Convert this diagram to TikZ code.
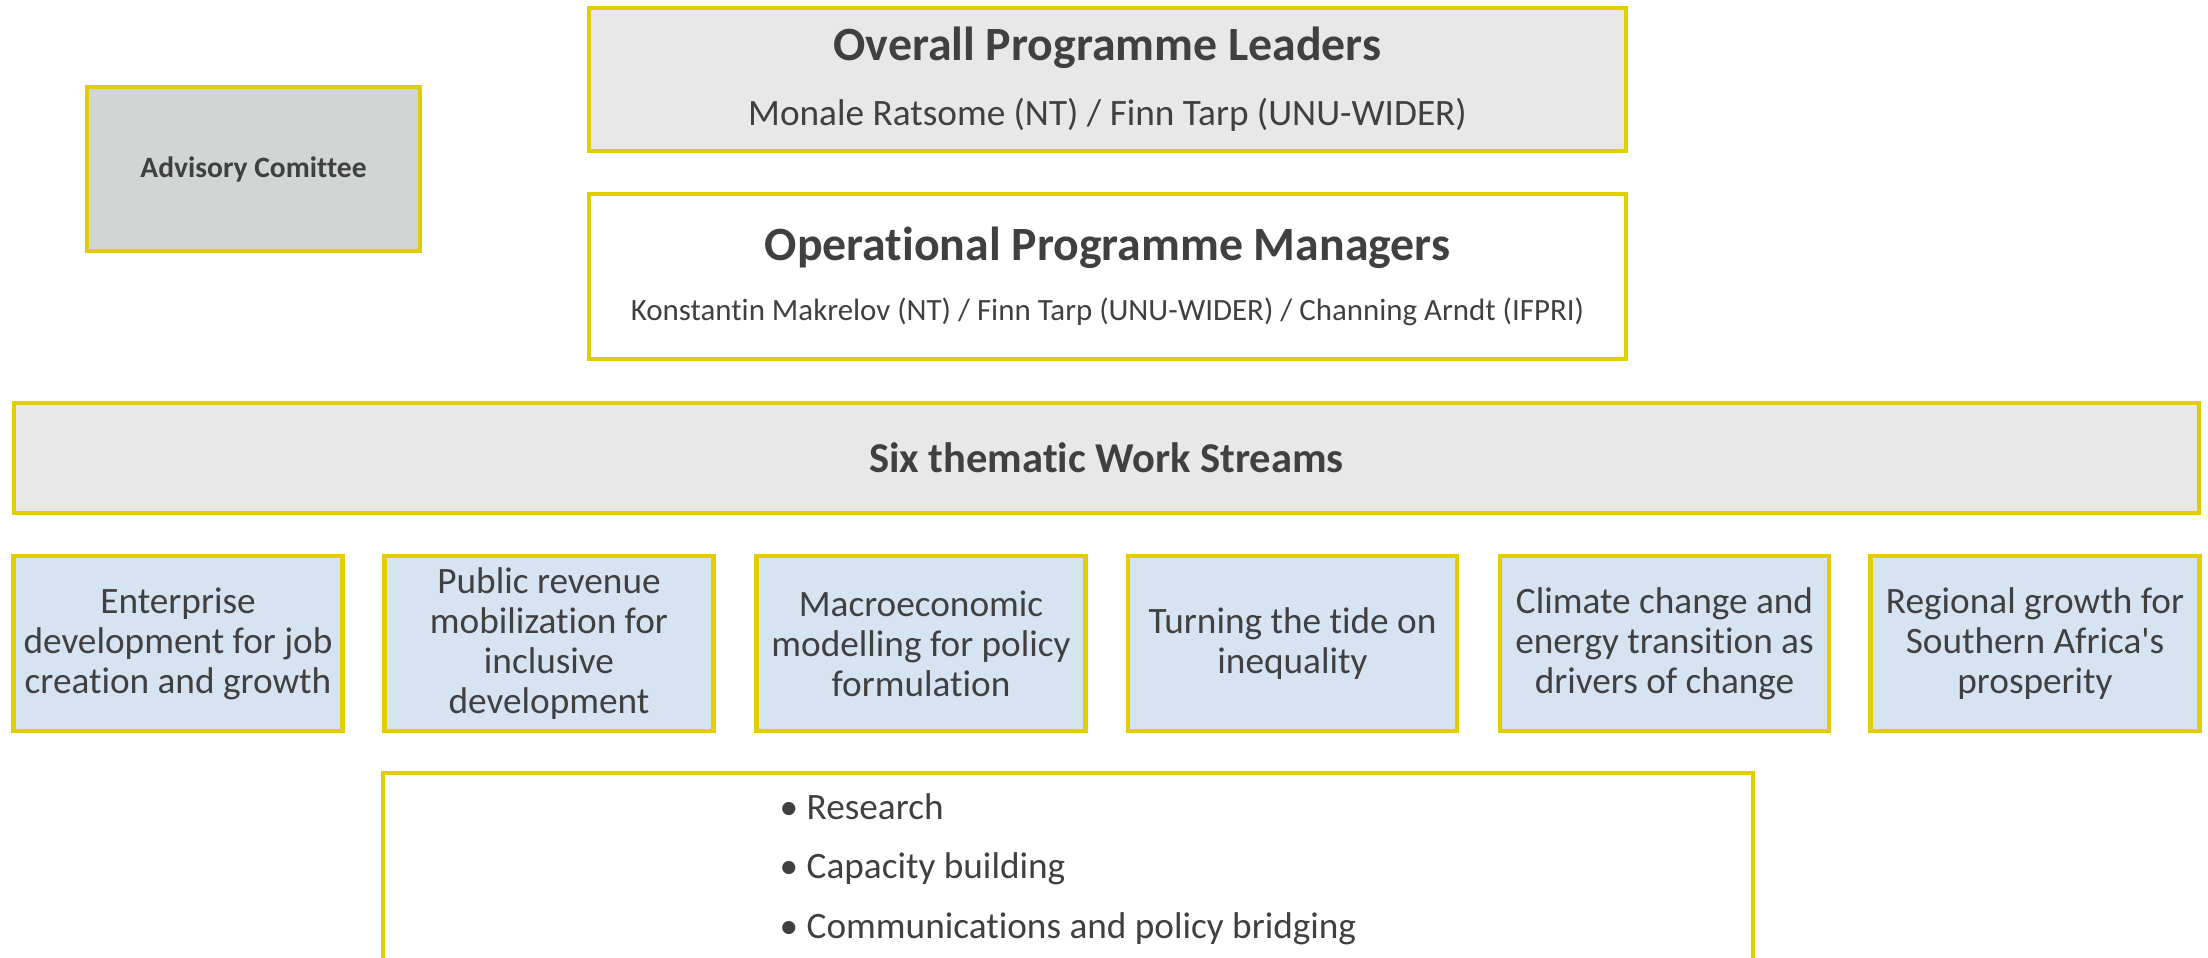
\documentclass[tikz,border=0pt]{standalone}
\usepackage{fontspec}
\setmainfont{Carlito}[Ligatures={NoCommon,TeXOff}]
\usepackage{tikz}
\usepackage{xcolor}
\definecolor{boxyellow}{RGB}{226,206,0}
\definecolor{lightgrey}{RGB}{231,232,231}
\definecolor{midgrey}{RGB}{209,213,212}
\definecolor{paleblue}{RGB}{214,228,242}
\definecolor{textgrey}{RGB}{64,64,64}

\begin{document}
\begin{tikzpicture}[node distance=2cm]
	\tikzstyle{frame} = [draw=boxyellow, line width=1.2pt, text=textgrey, align=center, inner sep=2pt]
	\tikzstyle{lead} = [frame, fill=lightgrey, minimum width=10.37cm, font=\fontsize{10.6}{12}\selectfont]
	\tikzstyle{stream} = [frame, fill=paleblue, minimum width=3.29cm, minimum height=1.75cm, font=\fontsize{10.6}{11.4}\selectfont]
	\useasboundingbox (0,0) rectangle (22.08,-9.57);
		\node[frame, fill=midgrey, minimum width=3.33cm, minimum height=1.64cm, font=\fontsize{8.4}{10}\selectfont\bfseries] (adv) at (2.535,-1.69) {Advisory Comittee};
		\node[lead, minimum height=1.43cm] (leaders) at (11.075,-0.795) {{\fontsize{13.6}{16}\selectfont\bfseries Overall Programme Leaders}\\[6.5pt] Monale Ratsome (NT) / Finn Tarp (UNU-WIDER)};
		\node[lead, fill=white, minimum height=1.65cm, font=\fontsize{8.8}{10}\selectfont] (managers) at (11.075,-2.765) {{\fontsize{13.6}{16}\selectfont\bfseries Operational Programme Managers}\\[7pt] Konstantin Makrelov (NT) / Finn Tarp (UNU-WIDER) / Channing Arndt (IFPRI)};
		\node[frame, fill=lightgrey, minimum width=21.85cm, minimum height=1.10cm, font=\fontsize{12.1}{14}\selectfont\bfseries] (streams) at (11.065,-4.58) {Six thematic Work Streams};
		\node[stream] (enterprise) at (1.78,-6.435)  {Enterprise\\ development for job\\ creation and growth};
		\node[stream] (revenue)    at (5.49,-6.435)  {Public revenue\\ mobilization for\\ inclusive\\ development};
		\node[stream] (macro)      at (9.21,-6.435)  {Macroeconomic\\ modelling for policy\\ formulation};
		\node[stream] (tide)       at (12.925,-6.435) {Turning the tide on\\ inequality};
		\node[stream] (climate)    at (16.645,-6.435) {Climate change and\\ energy transition as\\ drivers of change};
		\node[stream] (regional)   at (20.35,-6.435) {Regional growth for\\ Southern Africa's\\ prosperity};
		\node[frame, fill=white, align=left, minimum width=13.70cm, minimum height=1.92cm, font=\fontsize{10.6}{17}\selectfont] (activities) at (10.68,-8.69) {\textbullet\ Research\\ \textbullet\ Capacity building\\ \textbullet\ Communications and policy bridging};
	\end{tikzpicture}
\end{document}
